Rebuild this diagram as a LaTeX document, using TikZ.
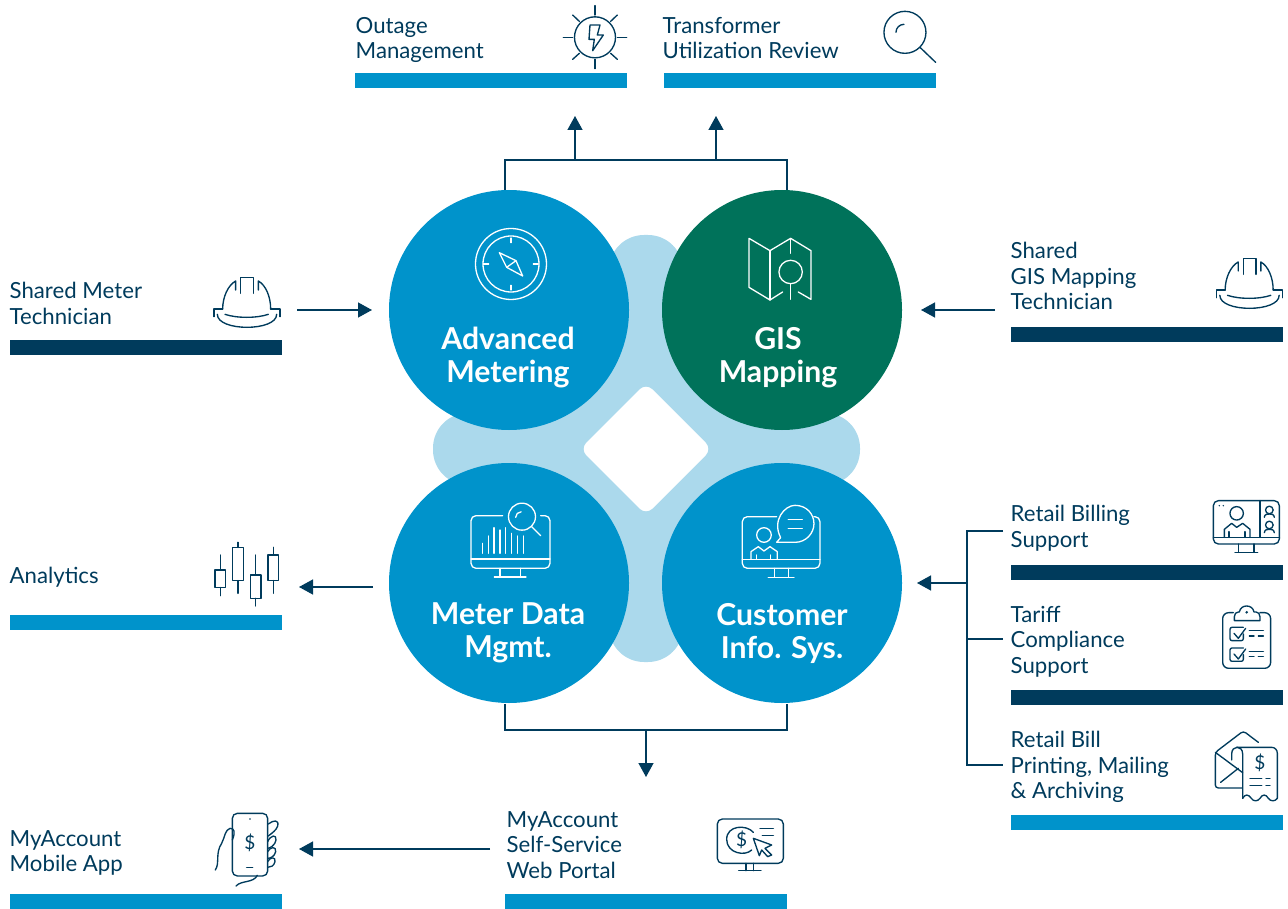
\documentclass[tikz,border=0pt]{standalone}
\usepackage{fontspec}
\setmainfont{Lato}
\usetikzlibrary{arrows.meta,calc}
\definecolor{bl}{HTML}{0093CB}
\definecolor{dk}{HTML}{003B5C}
\definecolor{gr}{HTML}{00725A}
\definecolor{lt}{HTML}{ABD9EC}
\tikzset{
 barblue/.style={fill=bl,draw=none,inner sep=0,outer sep=0,minimum width=272pt,minimum height=15pt},
 bardark/.style={barblue,fill=dk},
 disc/.style={circle,fill=bl,draw=none,inner sep=0,outer sep=0,minimum size=240pt},
 disctext/.style={text=white,font=\fontsize{30.2}{33}\selectfont\bfseries,align=center,inner sep=0},
 lab/.style={text=dk,font=\fontsize{22.2}{25.5}\selectfont,align=left,anchor=north west,inner sep=0},
 conn/.style={draw=dk,line width=1.35pt},
 arr/.style={conn,-{Triangle[length=14pt,width=15pt]}},
 ic/.style={draw=dk,line width=1.35pt,line cap=round,line join=round,fill=none},
 icw/.style={draw=white,line width=1.3pt,line cap=round,line join=round,fill=none},
}
\newcommand{\helmet}{%
 \draw (68,132) .. controls (68,95) and (85,60) .. (107,48) -- (107,75);
 \draw (122,85) -- (122,37) -- (160,37) -- (160,85);
 \draw (175,75) -- (175,48) .. controls (197,60) and (212,95) .. (212,132);
 \draw (42,155) -- (42,132) -- (68,132);
 \draw (240,155) -- (240,132) -- (212,132);
 \draw (52,148) .. controls (52,200) and (230,200) .. (230,148);
 \draw (75,148) .. controls (110,160) and (170,160) .. (205,148);
}
\begin{document}
\begin{tikzpicture}[x=1pt,y=-1pt]
\useasboundingbox (0,0) rectangle (1288,909);
% clover
\fill[lt,rounded corners=35pt] (609,235) rectangle (683,662);
\fill[lt,rounded corners=35pt] (433,413) rectangle (860,485);
\fill[lt] (646,449) circle[radius=102];
\fill[white,rounded corners=9pt] (646,383) -- (712,449) -- (646,515) -- (580,449) -- cycle;
% discs
\node[disc] (am) at (509,310) {};
\node[disc,fill=gr] (gis) at (782,310) {};
\node[disc] (mdm) at (509,583) {};
\node[disc] (cis) at (782,583) {};
\node[disctext] (amt) at (508,358) {Advanced\\Metering};
\node[disctext] (gist) at (778,358) {GIS\\Mapping};
\node[disctext] (mdmt) at (508,633) {Meter Data\\Mgmt.};
\node[disctext] (cist) at (782,633) {Customer\\Info. Sys.};
% bars
\node[barblue] (bo) at (491,80.5) {};
\node[barblue] (bt) at (800,80.5) {};
\node[bardark] (bm) at (146,347.5) {};
\node[bardark] (bg) at (1147,334.5) {};
\node[barblue] (ba) at (146,622.5) {};
\node[bardark] (br) at (1147,572.5) {};
\node[bardark] (bc) at (1147,697.5) {};
\node[barblue] (bp) at (1147,822.5) {};
\node[barblue] (bma) at (146,901.5) {};
\node[barblue,minimum width=282pt] (bw) at (646,901.5) {};
% labels
\node[lab] (l1) at (355.5,17) {Outage\\Management};
\node[lab] (l2) at (662.5,17) {Transformer\\Utilization Review};
\node[lab] (l3) at (9.5,282) {Shared Meter\\Technician};
\node[lab] (l4) at (1010.5,242) {Shared\\GIS Mapping\\Technician};
\node[lab] (l5) at (9.5,567) {Analytics};
\node[lab] (l6) at (1010.5,505) {Retail Billing\\Support};
\node[lab] (l7) at (1010.5,606) {Tariff\\Compliance\\Support};
\node[lab] (l8) at (1010.5,731) {Retail Bill\\Printing, Mailing\\\& Archiving};
\node[lab] (l9) at (9.5,830) {MyAccount\\Mobile App};
\node[lab] (l10) at (506.5,811) {MyAccount\\Self-Service\\Web Portal};
% connectors
\coordinate (jtl) at (505,160); \coordinate (jtr) at (787,160);
\coordinate (ju1) at (575,160); \coordinate (ju2) at (716,160);
\coordinate (eu1) at (575,116); \coordinate (eu2) at (716,116);
\draw[conn] (am.north -| jtl) -- (jtl) -- (jtr) -- (gis.north -| jtr);
\draw[arr] (ju1) -- (eu1);
\draw[arr] (ju2) -- (eu2);
\coordinate (sm) at (297,310); \coordinate (smd) at (372,310);
\draw[arr] (sm) -- (smd);
\coordinate (sg) at (995,310); \coordinate (sgd) at (921,310);
\draw[arr] (sg) -- (sgd);
\coordinate (as) at (373,587); \coordinate (asd) at (299,587);
\draw[arr] (as) -- (asd);
\coordinate (jbl) at (505,730); \coordinate (jbr) at (787,730); \coordinate (jbm) at (646,730); \coordinate (jbe) at (646,777);
\draw[conn] (505,703.5) -- (jbl) -- (jbr) -- (787,703.5);
\draw[arr] (jbm) -- (jbe);
\coordinate (w1) at (490,849); \coordinate (w2) at (299,849);
\draw[arr] (w1) -- (w2);
\coordinate (r1) at (1003,531); \coordinate (r2) at (967,531); \coordinate (r3) at (967,765); \coordinate (r4) at (1003,765);
\coordinate (r5) at (967,639); \coordinate (r6) at (1003,639); \coordinate (r7) at (967,583); \coordinate (r8) at (917,583);
\draw[conn] (r1) -- (r2) -- (r3) -- (r4);
\draw[conn] (r5) -- (r6);
\draw[arr] (r7) -- (r8);
% sun
\begin{scope}[shift={(540,0)},x=0.3333pt,y=-0.3333pt,ic]
\draw (165,112) circle[radius=20.5pt];
\draw (165,17) -- (165,45); \draw (165,178) -- (165,206);
\draw (70,112) -- (98,112); \draw (232,112) -- (260,112);
\draw (98,45) -- (118,64); \draw (232,45) -- (212,64);
\draw (98,178) -- (118,160); \draw (232,178) -- (212,160);
\draw (150,75) -- (180,75) -- (172,105) -- (190,105) -- (158,152) -- (163,118) -- (147,118) -- cycle;
% magnifier
\draw (1095,97) circle[radius=21pt];
\draw (1140,142) -- (1187,187);
\draw (1068,97) arc[start angle=180,end angle=90,radius=8pt];
\end{scope}
% compass
\begin{scope}[shift={(420,210)},x=0.3333pt,y=-0.3333pt,icw]
\draw (273,162) circle[radius=35.5pt];
\draw (273,162) circle[radius=28pt];
\draw (273,84) -- (273,98); \draw (273,226) -- (273,240);
\draw (190,162) -- (206,162); \draw (340,162) -- (355,162);
\draw (238,128) -- (288,152) -- (308,198) -- (260,172) -- cycle;
\draw (288,152) -- (260,172);
% map
\draw (1088,246) -- (1050,270) -- (987,232) -- (987,85) -- (1050,122) -- (1112,85) -- (1173,122) -- (1173,268) -- (1135,246);
\draw (1050,122) -- (1050,270);
\draw (1112,85) -- (1112,130);
\draw (1112,186) circle[radius=11.7pt];
\draw (1112,221) -- (1112,268);
\end{scope}
% chart monitor
\begin{scope}[shift={(430,490)},x=0.3333pt,y=-0.3333pt,icw]
\draw[rounded corners=5pt] (218,77) -- (123,77) -- (123,235) -- (360,235) -- (360,77) -- (332,77);
\draw (123,207) -- (360,207);
\draw (210,235) -- (210,260); \draw (272,235) -- (272,260);
\draw (193,261) -- (288,261);
\draw (276,80) circle[radius=13.5pt];
\draw (305,110) -- (332,137);
\draw (257,82) arc[start angle=180,end angle=90,radius=5.5pt];
\foreach \xx/\yy in {158/160,175/138,192/113,210/120,227/113,245/130,262/138,280/138}{\draw (\xx,\yy) -- (\xx,190);}
% cis monitor
\draw[rounded corners=5pt] (1040,80) -- (937,80) -- (937,235) -- (1170,235) -- (1170,80) -- (1152,80);
\draw (937,208) -- (1170,208);
\draw (1033,235) -- (1033,262); \draw (1075,235) -- (1075,262);
\draw (1015,262) -- (1092,262);
\draw (1058,157) -- (1040,157) -- (1052,143) .. controls (1025,90) and (1065,46) .. (1095,46) .. controls (1130,46) and (1152,72) .. (1152,101) .. controls (1152,130) and (1128,157) .. (1095,157) -- (1058,157);
\draw (1075,88) -- (1117,88); \draw (1075,115) -- (1117,115);
\draw (1002,135) circle[radius=7.3pt];
\draw (963,208) -- (963,185) -- (985,170) -- (1002,183) -- (1020,170) -- (1042,185) -- (1042,208);
\draw (980,195) -- (980,208); \draw (1022,195) -- (1022,208);
\end{scope}
% billing monitor + clipboard
\begin{scope}[shift={(1180,490)},x=0.3333pt,y=-0.3333pt,ic]
\draw[rounded corners=5pt] (100,32) rectangle (298,162);
\draw (240,32) -- (240,142); \draw (100,142) -- (298,142);
\draw (175,162) -- (175,187); \draw (222,162) -- (222,187);
\draw (165,187) -- (233,187);
\draw (170,70) circle[radius=6.7pt];
\draw (133,142) -- (133,118) -- (155,100) -- (170,112) -- (188,100) -- (210,118) -- (210,142);
\draw (147,125) -- (147,142); \draw (195,125) -- (195,142);
\draw (268,60) circle[radius=3.8pt];
\draw (253,82) .. controls (254,72) and (262,72) .. (268,72) .. controls (274,72) and (282,72) .. (283,82);
\draw (268,105) circle[radius=3.8pt];
\draw (253,128) .. controls (254,118) and (262,118) .. (268,118) .. controls (274,118) and (282,118) .. (283,128);
\fill[dk,draw=none] (118,47) circle[radius=0.8pt];
\fill[dk,draw=none] (130,47) circle[radius=0.8pt];
% clipboard
\draw[rounded corners=6pt] (160,368) -- (128,368) -- (128,535) -- (272,535) -- (272,368) -- (240,368);
\draw (163,380) -- (163,392) -- (240,392) -- (240,380) .. controls (240,372) and (235,366) .. (228,366) -- (222,366) .. controls (218,342) and (182,342) .. (178,366) -- (175,366) .. controls (168,366) and (163,372) .. (163,380);
\fill[dk,draw=none] (200,367) circle[radius=1.4pt];
\foreach \dy in {0,62}{
 \draw[rounded corners=2pt] (190,412+\dy) -- (150,412+\dy) -- (150,452+\dy) -- (190,452+\dy) -- (190,432+\dy);
 \draw (162,430+\dy) -- (175,445+\dy) -- (197,415+\dy);
 \draw (208,422+\dy) -- (250,422+\dy);
 \draw (208,438+\dy) -- (222,438+\dy);
 \draw (235,438+\dy) -- (250,438+\dy);
}
\end{scope}
% bill envelope
\begin{scope}[shift={(1190,720)},x=0.3333pt,y=-0.3333pt,ic]
\draw[rounded corners=3pt] (205,67) -- (160,33) -- (76,97) -- (76,204) -- (155,204);
\draw (76,97) -- (158,158);
\draw (92,187) -- (145,145);
\draw (125,120) -- (125,102) .. controls (125,75) and (158,75) .. (158,102) -- (158,235);
\draw (140,82) -- (245,82) .. controls (255,82) and (262,90) .. (262,100) -- (262,235);
\draw (158,235) .. controls (165,222) and (175,222) .. (184,235) .. controls (190,245) and (203,245) .. (210,235) .. controls (217,222) and (228,222) .. (235,235) .. controls (242,245) and (255,245) .. (262,235);
\node[text=dk,font=\fontsize{19}{19}\selectfont,inner sep=0] (bd) at (210,130) {\$};
\draw (180,175) -- (215,175); \draw (228,175) -- (240,175);
\draw (180,197) -- (215,197); \draw (228,197) -- (240,197);
\end{scope}
% phone
\begin{scope}[shift={(200,800)},x=0.3333pt,y=-0.3333pt,ic]
\draw[rounded corners=5pt] (97,40) rectangle (203,228);
\fill[dk,draw=none] (150,57) circle[radius=0.9pt];
\draw (140,202) -- (158,202);
\node[text=dk,font=\fontsize{19}{19}\selectfont,inner sep=0] (pd) at (150,130) {\$};
\draw (46,210) .. controls (60,190) and (45,160) .. (65,130) .. controls (75,110) and (75,90) .. (90,85) .. controls (103,85) and (107,95) .. (97,120);
\draw (108,258) .. controls (125,240) and (160,250) .. (172,226);
\draw (205,72) .. controls (220,60) and (238,58) .. (233,78) .. controls (230,90) and (215,100) .. (205,108);
\draw (203,125) .. controls (212,105) and (230,102) .. (228,120) .. controls (226,135) and (210,145) .. (203,145);
\draw (203,155) .. controls (210,140) and (230,138) .. (227,155) .. controls (224,170) and (210,175) .. (203,175);
\draw (203,185) .. controls (210,170) and (228,170) .. (225,185) .. controls (222,198) and (212,202) .. (203,202);
\end{scope}
% web monitor
\begin{scope}[shift={(700,805)},x=0.3333pt,y=-0.3333pt,ic]
\draw[rounded corners=5pt] (52,42) rectangle (250,175);
\draw (138,175) -- (138,197); \draw (160,175) -- (160,197);
\draw (116,197) -- (183,197);
\draw (160,82) .. controls (140,58) and (80,60) .. (80,103) .. controls (80,145) and (135,155) .. (155,135);
\draw (180,70) -- (220,70); \draw (187,92) -- (220,92);
\draw (160,100) -- (215,120) -- (195,130) -- (215,150) -- (203,155) -- (185,135) -- (178,152) -- cycle;
\node[text=dk,font=\fontsize{19}{19}\selectfont,inner sep=0] (wd) at (125,105) {\$};
\end{scope}
% candles
\begin{scope}[shift={(200,530)},x=0.3333pt,y=-0.3333pt,ic]
\draw (45,120) rectangle (77,173); \draw (61,75) -- (61,120); \draw (61,173) -- (61,197);
\draw (98,52) rectangle (130,152); \draw (114,37) -- (114,52); \draw (114,152) -- (114,190);
\draw (152,135) rectangle (183,205); \draw (167,75) -- (167,135); \draw (167,205) -- (167,228);
\draw (204,75) rectangle (236,152); \draw (220,52) -- (220,75); \draw (220,152) -- (220,190);
\end{scope}
% helmets
\begin{scope}[shift={(200,265)},x=0.3333pt,y=-0.3333pt,ic]\helmet\end{scope}
\begin{scope}[shift={(1202.5,246)},x=0.3333pt,y=-0.3333pt,ic]\helmet\end{scope}
\end{tikzpicture}
\end{document}
